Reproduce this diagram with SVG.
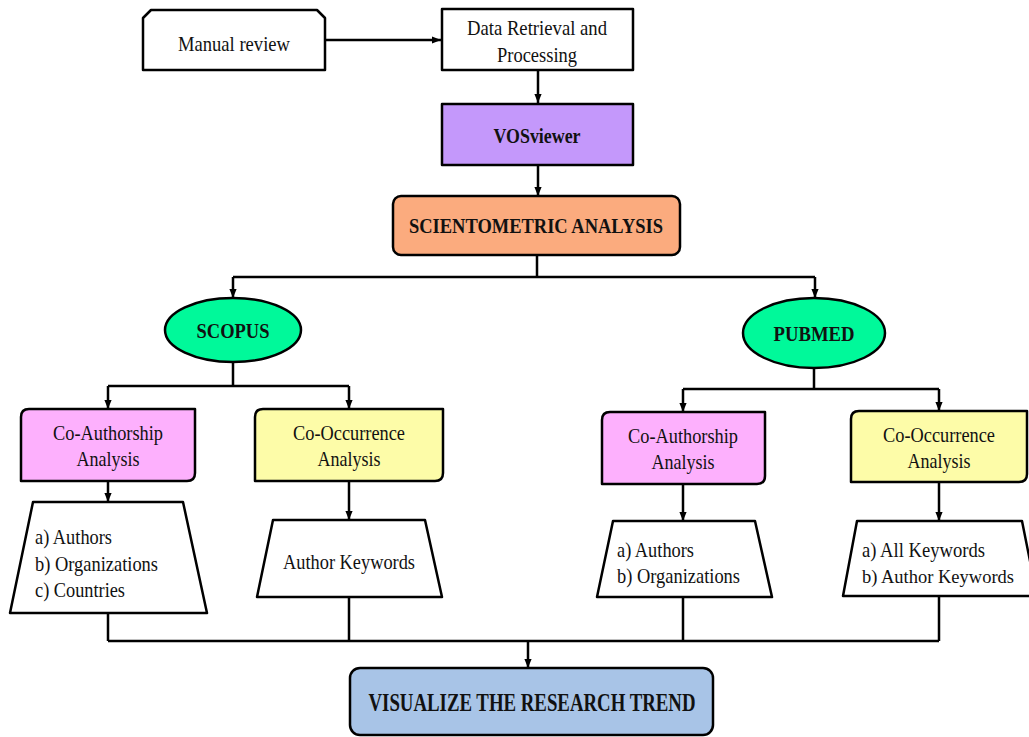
<svg xmlns="http://www.w3.org/2000/svg" width="1029" height="737" viewBox="0 0 1029 737">
<style>
.s{stroke:#000;stroke-width:2.5;stroke-linejoin:round}
.t{font-family:"Liberation Serif","Times New Roman",serif;font-size:21px;fill:#111}
.b{font-weight:bold}
.m{text-anchor:middle}
.c{fill:none;stroke:#000;stroke-width:2.5}
</style>
<defs>
<marker id="ah" viewBox="0 0 10 10" refX="10" refY="5" markerWidth="9" markerHeight="9" markerUnits="userSpaceOnUse" orient="auto"><path d="M0,1 L10,5 L0,9 z" fill="#000"/></marker>
</defs>
<rect width="1029" height="737" fill="#fff"/>
<g id="connectors">
<path class="c" d="M325,40 H441" marker-end="url(#ah)"/>
<path class="c" d="M538,70 V103" marker-end="url(#ah)"/>
<path class="c" d="M538,165 V196" marker-end="url(#ah)"/>
<path class="c" d="M537,255 V277 M233,277 H815"/>
<path class="c" d="M233,277 V298" marker-end="url(#ah)"/>
<path class="c" d="M815,277 V298" marker-end="url(#ah)"/>
<path class="c" d="M233,362 V386 M108,386 H349"/>
<path class="c" d="M108,386 V409" marker-end="url(#ah)"/>
<path class="c" d="M349,386 V409" marker-end="url(#ah)"/>
<path class="c" d="M108,481 V502" marker-end="url(#ah)"/>
<path class="c" d="M349,481 V520" marker-end="url(#ah)"/>
<path class="c" d="M814,368 V389 M683,389 H939"/>
<path class="c" d="M683,389 V412" marker-end="url(#ah)"/>
<path class="c" d="M939,389 V411" marker-end="url(#ah)"/>
<path class="c" d="M683,484 V521" marker-end="url(#ah)"/>
<path class="c" d="M939,482 V521" marker-end="url(#ah)"/>
<path class="c" d="M108,613 V641 M349,597 V641 M683,597 V641 M939,596 V641 M108,641 H939"/>
<path class="c" d="M528,641 V668" marker-end="url(#ah)"/>
</g>
<g id="manual">
<path class="s" fill="#fff" d="M143,70 V18 L151,10 H317 L325,18 V70 Z"/>
<text class="t m" x="234" y="51" textLength="112" lengthAdjust="spacingAndGlyphs">Manual review</text>
</g>
<g id="data">
<rect class="s" fill="#fff" x="442" y="9" width="191" height="61"/>
<text class="t m" x="537" y="35" textLength="140" lengthAdjust="spacingAndGlyphs">Data Retrieval  and</text>
<text class="t m" x="537" y="62" textLength="80" lengthAdjust="spacingAndGlyphs">Processing</text>
</g>
<g id="vos">
<rect class="s" fill="#c498fb" x="442" y="104" width="191" height="61"/>
<text class="t b m" x="537" y="143" style="font-size:22px" textLength="87" lengthAdjust="spacingAndGlyphs">VOSviewer</text>
</g>
<g id="scient">
<rect class="s" fill="#fbab7e" x="393" y="196" width="287" height="59" rx="8"/>
<text class="t b m" x="536" y="233" textLength="254" lengthAdjust="spacingAndGlyphs">SCIENTOMETRIC ANALYSIS</text>
</g>
<g id="scopus">
<ellipse class="s" fill="#00f99a" cx="233" cy="330" rx="68" ry="32"/>
<text class="t b m" x="233" y="338" textLength="73" lengthAdjust="spacingAndGlyphs">SCOPUS</text>
</g>
<g id="pubmed">
<ellipse class="s" fill="#00f99a" cx="814" cy="333" rx="71" ry="35"/>
<text class="t b m" x="814" y="341" textLength="81" lengthAdjust="spacingAndGlyphs">PUBMED</text>
</g>
<g id="s_coauth">
<path class="s" fill="#fdb0fd" d="M29,409 H195 V473 Q195,481 187,481 H21 V417 Q21,409 29,409 Z"/>
<text class="t m" x="108" y="440" textLength="110" lengthAdjust="spacingAndGlyphs">Co-Authorship</text>
<text class="t m" x="108" y="466" textLength="63" lengthAdjust="spacingAndGlyphs">Analysis</text>
</g>
<g id="s_cooc">
<path class="s" fill="#fdfca8" d="M263,409 H443 V473 Q443,481 435,481 H255 V417 Q255,409 263,409 Z"/>
<text class="t m" x="349" y="440" textLength="112" lengthAdjust="spacingAndGlyphs">Co-Occurrence</text>
<text class="t m" x="349" y="466" textLength="63" lengthAdjust="spacingAndGlyphs">Analysis</text>
</g>
<g id="p_coauth">
<path class="s" fill="#fdb0fd" d="M610,412 H765 V476 Q765,484 757,484 H602 V420 Q602,412 610,412 Z"/>
<text class="t m" x="683" y="443" textLength="110" lengthAdjust="spacingAndGlyphs">Co-Authorship</text>
<text class="t m" x="683" y="469" textLength="63" lengthAdjust="spacingAndGlyphs">Analysis</text>
</g>
<g id="p_cooc">
<path class="s" fill="#fdfca8" d="M859,411 H1027 V474 Q1027,482 1019,482 H851 V419 Q851,411 859,411 Z"/>
<text class="t m" x="939" y="442" textLength="112" lengthAdjust="spacingAndGlyphs">Co-Occurrence</text>
<text class="t m" x="939" y="468" textLength="63" lengthAdjust="spacingAndGlyphs">Analysis</text>
</g>
<g id="s_auth_list">
<path class="s" fill="#fff" d="M33,502 H183 L207,613 H10 Z"/>
<text class="t" x="35" y="544" textLength="77" lengthAdjust="spacingAndGlyphs">a) Authors</text>
<text class="t" x="35" y="571" textLength="123" lengthAdjust="spacingAndGlyphs">b) Organizations</text>
<text class="t" x="35" y="597" textLength="90" lengthAdjust="spacingAndGlyphs">c) Countries</text>
</g>
<g id="s_kw_list">
<path class="s" fill="#fff" d="M273,520 H425 L442,597 H257 Z"/>
<text class="t m" x="349" y="569" textLength="132" lengthAdjust="spacingAndGlyphs">Author Keywords</text>
</g>
<g id="p_auth_list">
<path class="s" fill="#fff" d="M613,521 H755 L772,597 H597 Z"/>
<text class="t" x="617" y="557" textLength="77" lengthAdjust="spacingAndGlyphs">a) Authors</text>
<text class="t" x="617" y="583" textLength="123" lengthAdjust="spacingAndGlyphs">b) Organizations</text>
</g>
<g id="p_kw_list">
<path class="s" fill="#fff" d="M857,521 H1022 L1037,596 H843 Z"/>
<text class="t" x="862" y="557" textLength="123" lengthAdjust="spacingAndGlyphs">a) All Keywords</text>
<text class="t" x="862" y="583" style="font-size:19.5px" textLength="152" lengthAdjust="spacingAndGlyphs">b) Author Keywords</text>
</g>
<g id="visualize">
<rect class="s" fill="#a8c4e7" x="350" y="668" width="363" height="67" rx="10"/>
<text class="t b m" x="532" y="711" style="font-size:25px" textLength="327" lengthAdjust="spacingAndGlyphs">VISUALIZE THE RESEARCH TREND</text>
</g>
</svg>
